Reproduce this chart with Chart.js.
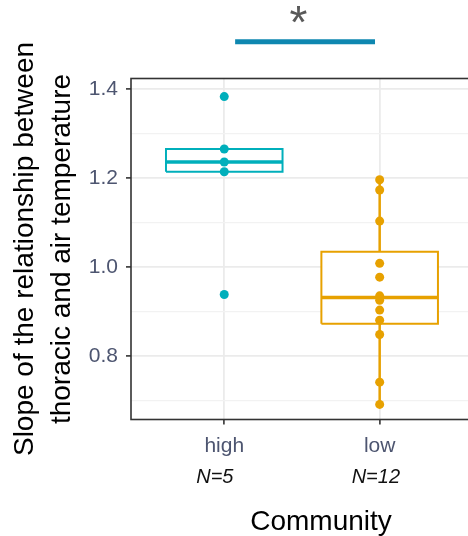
<!DOCTYPE html>
<html lang="en">
<head>
    <meta charset="UTF-8">
    <title>Slope by community</title>
    <style>
        html, body { margin: 0; padding: 0; background: #fff; overflow: hidden; }
        #wrap { width: 468px; height: 536px; overflow: hidden; }
    </style>
</head>
<body>
    <div id="wrap"><canvas id="chart" width="520" height="536"></canvas></div>

    <script src="https://cdn.jsdelivr.net/npm/chart.js"></script>
    <script>
        // data
        const categories = ['high', 'low'];
        const sampleSizes = ['N=5', 'N=12'];
        const highValues = [1.383, 1.265, 1.236, 1.214, 0.938];
        const lowValues = [1.196, 1.173, 1.103, 1.008, 0.977, 0.935, 0.925, 0.903, 0.880, 0.848, 0.741, 0.691];
        const boxQ1 = [1.214, 0.872];
        const boxMedian = [1.236, 0.931];
        const boxQ3 = [1.265, 1.034];
        const whiskerLow = [1.214, 0.691];
        const whiskerHigh = [1.265, 1.196];
        const yGrid = [0.7, 0.8, 0.9, 1.0, 1.1, 1.2, 1.3, 1.4];
        const yLabelled = [0.8, 1.0, 1.2, 1.4];
        const sigSpan = [1.07, 1.97];
        const sigLevel = 1.506;
        const sigLabel = '*';

        const colors = ['#00AFBB', '#E7A100'];
        const halfWidth = 0.375;
        const font = "'Liberation Sans', Arial, sans-serif";

        const datasets = [];
        [highValues, lowValues].forEach((vals, i) => {
            const x = i + 1;
            const c = colors[i];
            datasets.push({
                data: [
                    { x: x - halfWidth, y: boxQ1[i] }, { x: x + halfWidth, y: boxQ1[i] },
                    { x: x + halfWidth, y: boxQ3[i] }, { x: x - halfWidth, y: boxQ3[i] },
                    { x: x - halfWidth, y: boxQ1[i] }
                ],
                showLine: true, fill: 'shape', backgroundColor: '#fff',
                borderColor: c, borderWidth: 2, borderJoinStyle: 'miter',
                pointRadius: 0, order: 3
            });
            datasets.push({
                data: [{ x: x, y: boxQ3[i] }, { x: x, y: whiskerHigh[i] }],
                showLine: true, borderColor: c, borderWidth: 2.5, pointRadius: 0, order: 2
            });
            datasets.push({
                data: [{ x: x, y: whiskerLow[i] }, { x: x, y: boxQ1[i] }],
                showLine: true, borderColor: c, borderWidth: 2.5, pointRadius: 0, order: 2
            });
            datasets.push({
                data: [{ x: x - halfWidth, y: boxMedian[i] }, { x: x + halfWidth, y: boxMedian[i] }],
                showLine: true, borderColor: c, borderWidth: 3.5, pointRadius: 0, order: 1
            });
            datasets.push({
                data: vals.map(v => ({ x: x, y: v })),
                showLine: false, pointRadius: 4.5, pointHoverRadius: 4.5,
                backgroundColor: c, borderWidth: 0, order: 0
            });
        });
        datasets.push({
            data: [{ x: sigSpan[0], y: sigLevel }, { x: sigSpan[1], y: sigLevel }],
            showLine: true, borderColor: '#0E87B0', borderWidth: 5, borderCapStyle: 'butt',
            pointRadius: 0, clip: false, order: 0
        });

        const extras = {
            id: 'extras',
            afterDraw(chart) {
                const { ctx, chartArea: a, scales } = chart;
                ctx.save();
                // panel border
                ctx.strokeStyle = '#333';
                ctx.lineWidth = 1.6;
                ctx.strokeRect(a.left, a.top, a.right - a.left, a.bottom - a.top);
                // sample sizes, left-aligned a bit before each category
                ctx.fillStyle = '#111';
                ctx.font = 'italic 20px ' + font;
                ctx.textAlign = 'left';
                ctx.textBaseline = 'middle';
                sampleSizes.forEach((s, i) => {
                    ctx.fillText(s, scales.x.getPixelForValue(i + 1) - 28, 477);
                });
                // significance star
                ctx.fillStyle = '#595959';
                ctx.font = '46px ' + font;
                ctx.textAlign = 'center';
                ctx.textBaseline = 'alphabetic';
                ctx.fillText(sigLabel, scales.x.getPixelForValue(1.478), 38);
                ctx.restore();
            }
        };

        const isMajor = v => yLabelled.some(t => Math.abs(t - v) < 1e-6);

        new Chart(document.getElementById('chart'), {
            type: 'scatter',
            data: { datasets },
            options: {
                responsive: false,
                animation: false,
                layout: { padding: { top: 78.5, right: 9, left: 0, bottom: 0 } },
                plugins: { legend: { display: false }, tooltip: { enabled: false } },
                scales: {
                    x: {
                        type: 'linear', min: 0.4, max: 2.845,
                        afterBuildTicks: s => { s.ticks = categories.map((c, i) => ({ value: i + 1 })); },
                        afterFit: s => { s.height = 116.5; },
                        ticks: {
                            callback: (v, i) => categories[i],
                            font: { family: font, size: 21 }, color: '#4D5570',
                            padding: 9, maxRotation: 0, autoSkip: false
                        },
                        grid: { color: '#EBEBEB', lineWidth: 1.8, tickLength: 5, tickColor: '#333', tickWidth: 1.6 },
                        border: { display: false },
                        title: {
                            display: true, text: 'Community', color: '#000',
                            font: { family: font, size: 28, lineHeight: 1.0 }, padding: 0
                        }
                    },
                    y: {
                        type: 'linear', min: 0.657, max: 1.4236,
                        afterBuildTicks: s => { s.ticks = yGrid.map(v => ({ value: v })); },
                        afterFit: s => { s.width = 131; },
                        ticks: {
                            callback: v => isMajor(v) ? v.toFixed(1) : '',
                            font: { family: font, size: 21 }, color: '#4D5570', padding: 8
                        },
                        grid: {
                            color: c => isMajor(c.tick.value) ? '#EBEBEB' : '#F2F2F2',
                            lineWidth: c => isMajor(c.tick.value) ? 1.8 : 1.3,
                            tickLength: 5,
                            tickColor: c => isMajor(c.tick.value) ? '#333' : 'rgba(0,0,0,0)',
                            tickWidth: 1.6
                        },
                        border: { display: false },
                        title: {
                            display: true,
                            text: ['Slope of the relationship between', 'thoracic and air temperature'],
                            color: '#000',
                            font: { family: font, size: 28, lineHeight: 1.34 }, padding: { top: 6.5, bottom: 0 }
                        }
                    }
                }
            },
            plugins: [extras]
        });
    </script>
</body>
</html>
